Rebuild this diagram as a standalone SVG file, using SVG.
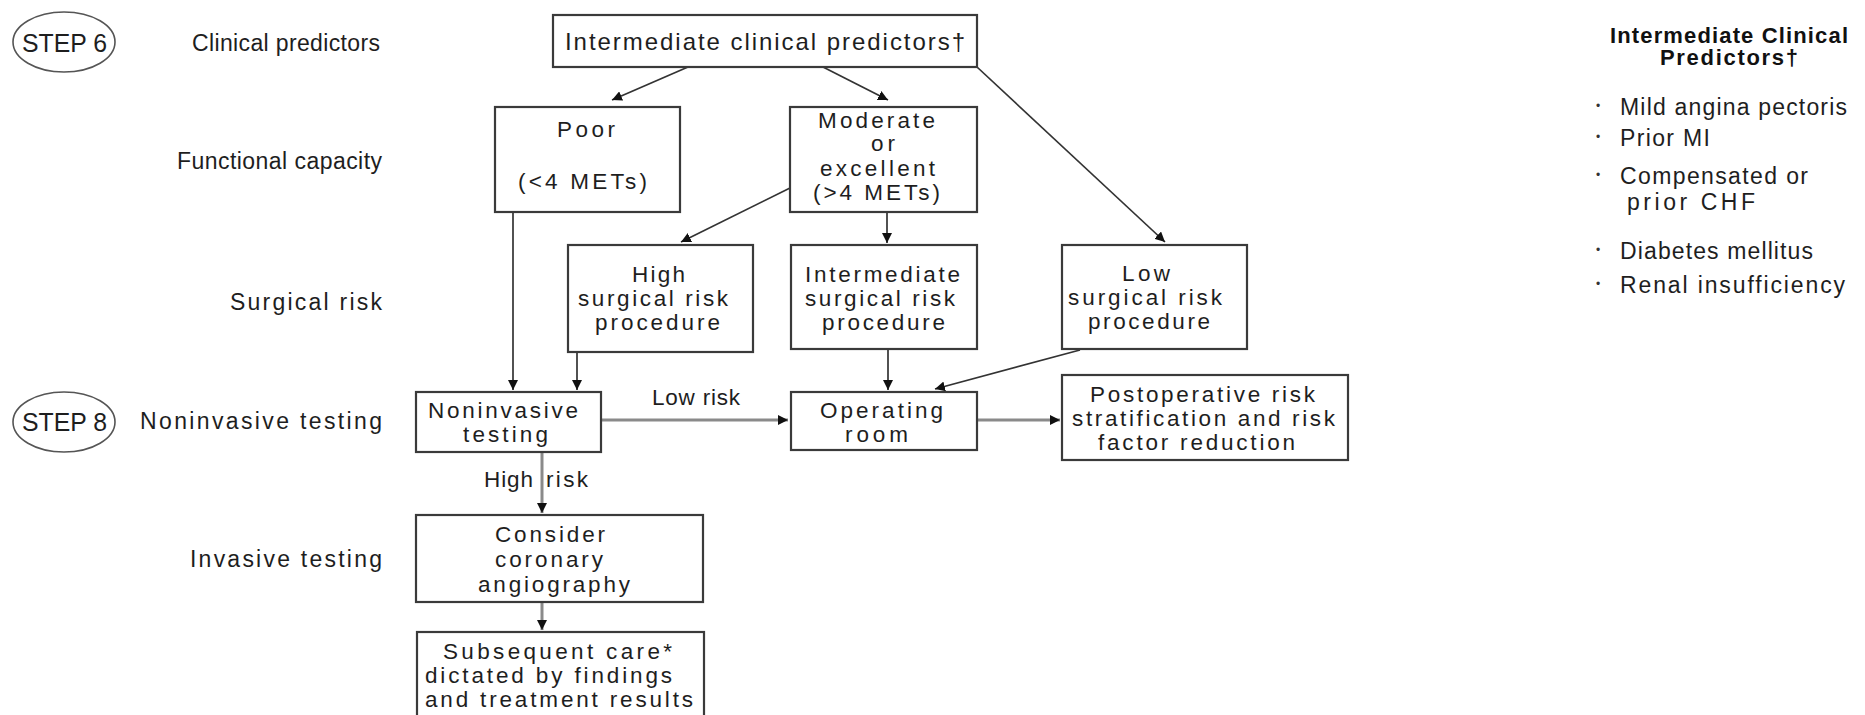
<svg xmlns="http://www.w3.org/2000/svg" width="1865" height="715" viewBox="0 0 1865 715">
<style>
  .bg { fill: #ffffff; }
  .box { fill: #ffffff; stroke: #3a3a3a; stroke-width: 2.2; }
  .oval { fill: none; stroke: #555555; stroke-width: 1.6; }
  .t { font-family: "Liberation Sans", Arial, sans-serif; font-size: 22.5px; fill: #1e1e1e; }
  .lbl { font-family: "Liberation Sans", Arial, sans-serif; font-size: 23px; fill: #1e1e1e; }
  .top { font-family: "Liberation Sans", Arial, sans-serif; font-size: 24px; fill: #1e1e1e; }
  .step { font-family: "Liberation Sans", Arial, sans-serif; font-size: 25px; fill: #1e1e1e; }
  .hd { font-family: "Liberation Sans", Arial, sans-serif; font-size: 22px; font-weight: bold; fill: #111111; }
  .li { font-family: "Liberation Sans", Arial, sans-serif; font-size: 23px; fill: #1e1e1e; }
  .dot { font-family: "Liberation Sans", Arial, sans-serif; font-size: 12px; fill: #333333; }
  .c { fill: none; stroke: #333333; stroke-width: 1.7; }
  .cg { fill: none; stroke: #8a8a8a; stroke-width: 3; }
</style>
<defs>
  <marker id="ah" markerUnits="userSpaceOnUse" markerWidth="12" markerHeight="10" refX="10" refY="5" orient="auto">
    <path d="M0,0 L10,5 L0,10 Z" fill="#111111"/>
  </marker>
</defs>
<rect class="bg" x="0" y="0" width="1865" height="715"/>

<g id="connectors">
  <line class="c" x1="688" y1="67" x2="612" y2="100" marker-end="url(#ah)"/>
  <line class="c" x1="823" y1="67" x2="888" y2="100" marker-end="url(#ah)"/>
  <line class="c" x1="977" y1="67" x2="1165" y2="242" marker-end="url(#ah)"/>
  <line class="c" x1="790" y1="188" x2="681" y2="242" marker-end="url(#ah)"/>
  <line class="c" x1="887" y1="212" x2="887" y2="243" marker-end="url(#ah)"/>
  <line class="c" x1="513" y1="212" x2="513" y2="390" marker-end="url(#ah)"/>
  <line class="c" x1="577" y1="352" x2="577" y2="390" marker-end="url(#ah)"/>
  <line class="c" x1="888" y1="349" x2="888" y2="390" marker-end="url(#ah)"/>
  <line class="c" x1="1080" y1="350" x2="935" y2="389" marker-end="url(#ah)"/>
  <line class="cg" x1="601" y1="420" x2="788" y2="420" marker-end="url(#ah)"/>
  <line class="cg" x1="977" y1="420" x2="1060" y2="420" marker-end="url(#ah)"/>
  <line class="cg" x1="542" y1="452" x2="542" y2="513" marker-end="url(#ah)"/>
  <line class="cg" x1="542" y1="602" x2="542" y2="630" marker-end="url(#ah)"/>
  <text class="t" x="652" y="405" textLength="88" lengthAdjust="spacing">Low risk</text>
  <text class="t" x="484" y="487" textLength="49" lengthAdjust="spacing">High</text>
  <text class="t" x="546" y="487" textLength="42" lengthAdjust="spacing">risk</text>
</g>

<g id="step6">
  <ellipse class="oval" cx="64" cy="42" rx="51" ry="30"/>
  <text class="step" x="22" y="52" textLength="85" lengthAdjust="spacingAndGlyphs">STEP 6</text>
</g>
<g id="step8">
  <ellipse class="oval" cx="64" cy="422" rx="51" ry="30"/>
  <text class="step" x="22" y="431" textLength="85" lengthAdjust="spacingAndGlyphs">STEP 8</text>
</g>

<g id="row-labels">
  <text class="lbl" x="192" y="51" textLength="188" lengthAdjust="spacing">Clinical predictors</text>
  <text class="lbl" x="177" y="169" textLength="205" lengthAdjust="spacing">Functional capacity</text>
  <text class="lbl" x="230" y="310" textLength="152" lengthAdjust="spacing">Surgical risk</text>
  <text class="lbl" x="140" y="429" textLength="242" lengthAdjust="spacing">Noninvasive testing</text>
  <text class="lbl" x="190" y="567" textLength="192" lengthAdjust="spacing">Invasive testing</text>
</g>

<g id="n-top">
  <rect class="box" x="553" y="15" width="424" height="52"/>
  <text class="top" x="565" y="50" textLength="400" lengthAdjust="spacing">Intermediate clinical predictors†</text>
</g>

<g id="n-poor">
  <rect class="box" x="495" y="107" width="185" height="105"/>
  <text class="t" x="557" y="137" textLength="58" lengthAdjust="spacing">Poor</text>
  <text class="t" x="518" y="189" textLength="129" lengthAdjust="spacing">(&lt;4 METs)</text>
</g>

<g id="n-moderate">
  <rect class="box" x="790" y="107" width="187" height="105"/>
  <text class="t" x="818" y="128" textLength="117" lengthAdjust="spacing">Moderate</text>
  <text class="t" x="871" y="151" textLength="24" lengthAdjust="spacing">or</text>
  <text class="t" x="820" y="176" textLength="115" lengthAdjust="spacing">excellent</text>
  <text class="t" x="813" y="200" textLength="127" lengthAdjust="spacing">(&gt;4 METs)</text>
</g>

<g id="n-high">
  <rect class="box" x="568" y="245" width="185" height="107"/>
  <text class="t" x="632" y="282" textLength="53" lengthAdjust="spacing">High</text>
  <text class="t" x="578" y="306" textLength="150" lengthAdjust="spacing">surgical risk</text>
  <text class="t" x="595" y="330" textLength="125" lengthAdjust="spacing">procedure</text>
</g>

<g id="n-intermediate">
  <rect class="box" x="791" y="245" width="186" height="104"/>
  <text class="t" x="805" y="282" textLength="155" lengthAdjust="spacing">Intermediate</text>
  <text class="t" x="805" y="306" textLength="150" lengthAdjust="spacing">surgical risk</text>
  <text class="t" x="822" y="330" textLength="123" lengthAdjust="spacing">procedure</text>
</g>

<g id="n-low">
  <rect class="box" x="1062" y="245" width="185" height="104"/>
  <text class="t" x="1122" y="281" textLength="48" lengthAdjust="spacing">Low</text>
  <text class="t" x="1068" y="305" textLength="154" lengthAdjust="spacing">surgical risk</text>
  <text class="t" x="1088" y="329" textLength="122" lengthAdjust="spacing">procedure</text>
</g>

<g id="n-noninvasive">
  <rect class="box" x="416" y="392" width="185" height="60"/>
  <text class="t" x="428" y="418" textLength="150" lengthAdjust="spacing">Noninvasive</text>
  <text class="t" x="463" y="442" textLength="85" lengthAdjust="spacing">testing</text>
</g>

<g id="n-operating">
  <rect class="box" x="791" y="392" width="186" height="58"/>
  <text class="t" x="820" y="418" textLength="123" lengthAdjust="spacing">Operating</text>
  <text class="t" x="845" y="442" textLength="63" lengthAdjust="spacing">room</text>
</g>

<g id="n-postop">
  <rect class="box" x="1062" y="375" width="286" height="85"/>
  <text class="t" x="1090" y="402" textLength="225" lengthAdjust="spacing">Postoperative risk</text>
  <text class="t" x="1072" y="426" textLength="263" lengthAdjust="spacing">stratification and risk</text>
  <text class="t" x="1098" y="450" textLength="197" lengthAdjust="spacing">factor reduction</text>
</g>

<g id="n-consider">
  <rect class="box" x="416" y="515" width="287" height="87"/>
  <text class="t" x="495" y="542" textLength="110" lengthAdjust="spacing">Consider</text>
  <text class="t" x="495" y="567" textLength="108" lengthAdjust="spacing">coronary</text>
  <text class="t" x="478" y="592" textLength="152" lengthAdjust="spacing">angiography</text>
</g>

<g id="n-subsequent">
  <rect class="box" x="417" y="632" width="287" height="95"/>
  <text class="t" x="443" y="659" textLength="229" lengthAdjust="spacing">Subsequent care*</text>
  <text class="t" x="425" y="683" textLength="247" lengthAdjust="spacing">dictated by findings</text>
  <text class="t" x="425" y="707" textLength="268" lengthAdjust="spacing">and treatment results</text>
</g>

<g id="legend">
  <text class="hd" x="1610" y="43" textLength="238" lengthAdjust="spacing">Intermediate Clinical</text>
  <text class="hd" x="1660" y="65" textLength="138" lengthAdjust="spacing">Predictors†</text>
  <text class="dot" x="1596" y="110">•</text>
  <text class="li" x="1620" y="115" textLength="227" lengthAdjust="spacing">Mild angina pectoris</text>
  <text class="dot" x="1596" y="141">•</text>
  <text class="li" x="1620" y="146" textLength="90" lengthAdjust="spacing">Prior MI</text>
  <text class="dot" x="1596" y="179">•</text>
  <text class="li" x="1620" y="184" textLength="188" lengthAdjust="spacing">Compensated or</text>
  <text class="li" x="1627" y="210" textLength="128" lengthAdjust="spacing">prior CHF</text>
  <text class="dot" x="1596" y="254">•</text>
  <text class="li" x="1620" y="259" textLength="193" lengthAdjust="spacing">Diabetes mellitus</text>
  <text class="dot" x="1596" y="288">•</text>
  <text class="li" x="1620" y="293" textLength="225" lengthAdjust="spacing">Renal insufficiency</text>
</g>
</svg>
